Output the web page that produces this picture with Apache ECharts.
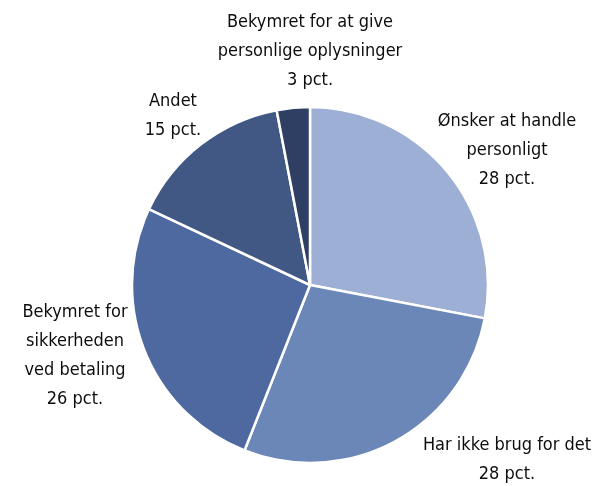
<!DOCTYPE html>
<html>
<head>
<meta charset="utf-8">
<script src="https://cdn.jsdelivr.net/npm/echarts@6/dist/echarts.min.js"></script>
<style>
  html, body { margin: 0; padding: 0; background: #fff; }
  #chart { width: 594px; height: 486px; }
</style>
</head>
<body>
<div id="chart"></div>
<script>
// data
const categories = [
  'Ønsker at handle\npersonligt',
  'Har ikke brug for det',
  'Bekymret for\nsikkerheden\nved betaling',
  'Andet',
  'Bekymret for at give\npersonlige oplysninger'
]
const values = [28, 28, 26, 15, 3]

// slice colours and label anchors (layout only)
const colors = ['#9eafd5', '#6b87b8', '#4e69a0', '#415784', '#2f3f63']
const labelPos = [
  [507, 150],
  [507, 460],
  [75, 356],
  [173, 116],
  [310, 51]
]

const chart = echarts.init(document.getElementById('chart'))
chart.setOption({
  backgroundColor: '#ffffff',
  animation: false,
  series: [{
    type: 'pie',
    center: [310, 285],
    radius: 178,
    startAngle: 90,
    clockwise: true,
    data: categories.map((name, i) => ({
      name: name,
      value: values[i],
      itemStyle: { color: colors[i] }
    })),
    itemStyle: {
      borderColor: '#ffffff',
      borderWidth: 2.5
    },
    label: {
      show: true,
      position: 'outside',
      overflow: 'none',
      formatter: p => p.name + '\n' + p.value + ' pct.',
      color: '#0d0d0d',
      fontFamily: '"DejaVu Sans Condensed", "Liberation Sans Narrow", "Roboto Condensed", Roboto, sans-serif',
      fontSize: 18,
      lineHeight: 29,
      align: 'center'
    },
    labelLine: { show: false },
    labelLayout: params => ({
      x: labelPos[params.dataIndex][0],
      y: labelPos[params.dataIndex][1],
      align: 'center',
      verticalAlign: 'middle'
    }),
    emphasis: { disabled: true }
  }]
})
</script>
</body>
</html>
